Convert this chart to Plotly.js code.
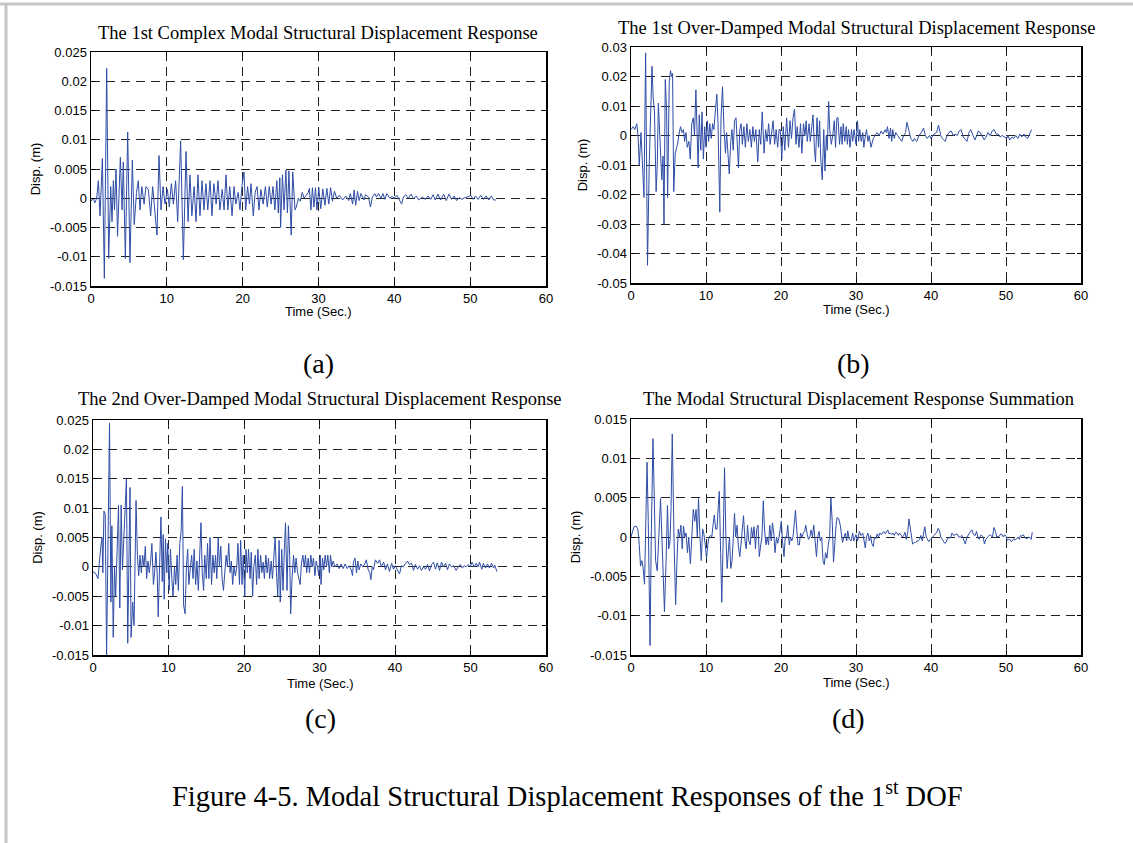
<!DOCTYPE html>
<html>
<head>
<meta charset="utf-8">
<script src="https://cdn.plot.ly/plotly-3.0.1.min.js"></script>
<style>
  html, body { margin: 0; padding: 0; background: #ffffff; }
  #chart { width: 1133px; height: 843px; }
</style>
</head>
<body>
<div id="chart"></div>
<script>
// ---------------- data ----------------
const xTickVals = [0, 10, 20, 30, 40, 50, 60];
const xTickText = ["0", "10", "20", "30", "40", "50", "60"];

const yTickValsA = [0.025, 0.02, 0.015, 0.01, 0.005, 0, -0.005, -0.01, -0.015];
const yTickTextA = ["0.025", "0.02", "0.015", "0.01", "0.005", "0", "-0.005", "-0.01", "-0.015"];
const yTickValsB = [0.03, 0.02, 0.01, 0, -0.01, -0.02, -0.03, -0.04, -0.05];
const yTickTextB = ["0.03", "0.02", "0.01", "0", "-0.01", "-0.02", "-0.03", "-0.04", "-0.05"];
const yTickValsD = [0.015, 0.01, 0.005, 0, -0.005, -0.01, -0.015];
const yTickTextD = ["0.015", "0.01", "0.005", "0", "-0.005", "-0.01", "-0.015"];

const panelTitles = [
  "The 1st Complex Modal Structural Displacement Response",
  "The 1st Over-Damped Modal Structural Displacement Response",
  "The 2nd Over-Damped Modal Structural Displacement Response",
  "The Modal Structural Displacement Response Summation"
];
const panelLetters = ["(a)", "(b)", "(c)", "(d)"];
const xTitle = "Time (Sec.)";
const yTitle = "Disp. (m)";
const caption = "Figure 4-5. Modal Structural Displacement Responses of the 1<sup>st</sup> DOF";

// (a) 1st complex modal response
const tA = [
  0, 0.3, 0.5, 0.75, 0.97, 1.19, 1.5, 1.76, 2.07, 2.33,
  2.6, 2.77, 2.95, 3.1, 3.3, 3.5, 3.87, 4.1, 4.26, 4.53,
  4.84, 5.14, 5.45, 5.7, 6.0, 6.24, 6.46, 6.7, 7.0, 7.25,
  7.56, 7.87, 8.13, 8.44, 8.7, 8.97, 9.23, 9.5, 9.76, 10.07,
  10.33, 10.6, 10.86, 11.16, 11.43, 11.82, 12.18, 12.53, 12.8, 13.05,
  13.3, 13.6, 13.85, 14.1, 14.37, 14.64, 14.9, 15.16, 15.4, 15.7,
  15.95, 16.2, 16.5, 16.75, 17.0, 17.3, 17.55, 17.8, 18.05, 18.3,
  18.6, 18.86, 19.1, 19.4, 19.65, 19.9, 20.17, 20.4, 20.65, 20.9,
  21.1, 21.4, 21.65, 21.9, 22.15, 22.4, 22.7, 23.0, 23.25, 23.5,
  23.75, 24.0, 24.25, 24.5, 24.7, 24.9, 25.0, 25.25, 25.45, 25.7,
  25.9, 26.1, 26.4, 26.6, 26.9, 27.07, 27.35, 27.6, 27.86, 28.1,
  28.4, 28.65, 28.8, 29.0, 29.2, 29.4, 29.6, 29.8, 30.04, 30.3,
  30.57, 30.85, 31.1, 31.35, 31.6, 31.85, 32.1, 32.4, 32.75, 33.2,
  33.6, 34.0, 34.2, 34.5, 34.7, 34.9, 35.15, 35.35, 35.6, 36.0,
  36.2, 36.6, 36.85, 37.1, 37.4, 37.65, 37.9, 38.25, 38.5, 38.75,
  39.0, 39.4, 39.7, 40.0, 40.35, 40.7, 40.96, 41.2, 41.5, 41.85,
  42.2, 42.55, 42.9, 43.2, 43.7, 44.1, 44.45, 44.8, 45.1, 45.4,
  45.75, 46.1, 46.5, 46.85, 47.2, 47.55, 47.9, 48.2, 48.6, 48.9,
  49.3, 49.8, 50.1, 50.4, 50.7, 51.05, 51.4, 51.75, 52.1, 52.45,
  52.8, 53.1, 53.4
];
const dA = [
  -0.0005, 0, -0.0008, 0, 0.003, -0.003, 0.0068, -0.0137, 0.0222, -0.0103,
  0.002, -0.004, 0.003, -0.002, 0.005, -0.0065, 0.007, -0.002, 0.0062, -0.0103,
  0.0113, -0.011, 0.0065, -0.0045, 0.001, 0.003, -0.002, 0.002, -0.001, 0.002,
  0.0015, -0.003, 0.002, -0.003, -0.0063, 0.0073, -0.002, 0.002, -0.001, 0.0015,
  -0.0015, 0.0025, -0.001, 0.003, -0.004, 0.0098, -0.0105, 0.008, -0.004, 0.004,
  -0.003, 0.002, -0.004, 0.004, -0.003, 0.003, -0.002, 0.0025, -0.002, 0.003,
  -0.003, 0.0025, -0.001, 0.003, -0.002, 0.0015, -0.002, 0.004, -0.002, 0.002,
  -0.003, 0.002, -0.001, 0.001, -0.002, 0.002, 0.0045, -0.002, 0.002, -0.001,
  0.0025, -0.003, 0.001, 0.002, -0.002, 0.0015, -0.001, 0.002, -0.0015, 0.002,
  -0.001, 0.002, -0.002, 0.003, -0.0025, 0.0035, -0.005, 0.004, -0.002, 0.0048,
  -0.0025, 0.0047, -0.0063, 0.0045, -0.002, -0.0015, 0, -0.0005, 0.001, 0,
  0.0005, 0.001, 0.0017, -0.002, 0.0018, -0.0015, 0.0018, -0.002, 0.0018, -0.0018,
  0.0016, -0.0012, 0.0017, -0.001, 0.0018, -0.0005, 0.0012, 0, 0.0005, -0.0003,
  0.0004, -0.0004, 0.0008, -0.001, 0.0014, -0.0012, 0.0012, -0.0004, 0.0008, -0.0003,
  0.0006, 0.0002, -0.0015, 0.0002, 0.0008, 0.0002, 0.0008, 0, 0.0008, -0.0002,
  0.0008, 0, 0.0003, 0, 0.0005, -0.0003, -0.001, 0.0002, 0.0006, 0,
  0.0007, -0.0001, 0.0004, -0.0003, 0.0002, -0.0002, 0.0004, -0.0002, 0.0006, -0.0003,
  0.0007, -0.0003, 0.0007, -0.0004, 0.0007, -0.0002, 0.0004, -0.0004, 0.0001, -0.0002,
  0.0001, 0.0003, 0.0005, -0.0002, 0.0004, -0.0002, 0.0005, -0.0002, 0.0004, -0.0003,
  0.0004, -0.0003, -0.0003
];

// (b) 1st over-damped modal response
const tB = [
  0, 0.3, 0.5, 0.77, 0.94, 1.1, 1.33, 1.55, 1.73, 1.95,
  2.2, 2.43, 2.6, 2.8, 2.95, 3.13, 3.35, 3.5, 3.65, 3.87,
  4.1, 4.27, 4.4, 4.57, 4.75, 4.88, 5.1, 5.27, 5.4, 5.54,
  5.7, 5.9, 6.0, 6.2, 6.37, 6.6, 6.8, 7.0, 7.15, 7.33,
  7.5, 7.72, 7.9, 8.1, 8.3, 8.47, 8.65, 8.8, 8.95, 9.1,
  9.3, 9.47, 9.65, 9.83, 10.0, 10.17, 10.35, 10.5, 10.7, 10.88,
  11.05, 11.27, 11.45, 11.6, 11.84, 12.0, 12.2, 12.4, 12.6, 12.75,
  12.93, 13.1, 13.3, 13.46, 13.63, 13.8, 14.0, 14.2, 14.33, 14.5,
  14.68, 14.85, 15.05, 15.25, 15.45, 15.65, 15.85, 16.05, 16.25, 16.45,
  16.65, 16.9, 17.1, 17.3, 17.5, 17.75, 17.95, 18.15, 18.35, 18.55,
  18.75, 18.95, 19.15, 19.35, 19.55, 19.75, 19.9, 20.1, 20.3, 20.5,
  20.75, 21.0, 21.2, 21.4, 21.6, 21.8, 22.0, 22.16, 22.4, 22.6,
  22.78, 23.0, 23.2, 23.35, 23.5, 23.75, 23.9, 24.1, 24.27, 24.45,
  24.6, 24.8, 25.0, 25.15, 25.3, 25.5, 25.7, 25.86, 26.04, 26.17,
  26.35, 26.5, 26.7, 26.9, 27.1, 27.27, 27.45, 27.6, 27.8, 28.0,
  28.15, 28.3, 28.5, 28.7, 28.85, 29.0, 29.2, 29.4, 29.56, 29.74,
  30.0, 30.2, 30.35, 30.5, 30.7, 30.9, 31.05, 31.2, 31.4, 31.6,
  31.76, 32.0, 32.3, 32.55, 32.8, 33.1, 33.35, 33.6, 33.9, 34.05,
  34.2, 34.4, 34.6, 34.76, 34.9, 35.1, 35.3, 35.55, 35.8, 36.1,
  36.35, 36.6, 36.8, 37.05, 37.3, 37.6, 37.8, 38.1, 38.4, 38.7,
  39.0, 39.25, 39.5, 39.8, 40.0, 40.4, 40.75, 41.0, 41.3, 41.5,
  41.9, 42.15, 42.4, 42.7, 42.95, 43.2, 43.5, 43.75, 44.0, 44.3,
  44.5, 44.8, 45.07, 45.3, 45.6, 45.86, 46.1, 46.3, 46.56, 46.8,
  47.1, 47.35, 47.6, 47.9, 48.15, 48.4, 48.7, 48.95, 49.2, 49.5,
  49.8, 50.1, 50.26, 50.5, 50.8, 51.05, 51.3, 51.6, 51.85, 52.1,
  52.4, 52.6, 52.9, 53.2, 53.4
];
const dB = [
  0.002, 0.003, 0.002, 0.004, 0, -0.01, 0.001, -0.012, -0.021, 0.028,
  -0.044, -0.01, 0.01, 0.0235, 0.013, 0.008, -0.019, -0.01, 0.011, -0.005,
  -0.015, -0.007, -0.03, 0.019, 0.008, -0.021, 0.018, 0.022, 0.02, 0.021,
  -0.019, -0.006, -0.005, -0.003, 0, 0.003, 0.001, 0.002, -0.002, 0.001,
  -0.004, -0.002, -0.008, 0.004, 0.006, 0, 0.0155, 0.002, -0.011, 0.007,
  -0.005, 0.008, -0.008, 0.003, -0.004, 0.005, -0.002, 0.004, -0.001, 0.004,
  0.002, 0.009, 0.014, 0.004, -0.026, 0.006, 0.0165, 0.002, -0.006, 0.001,
  -0.005, -0.013, -0.002, 0.002, -0.005, 0.005, 0.006, -0.003, -0.011, 0.002,
  0.004, -0.003, 0.003, -0.004, 0.004, -0.002, 0.002, -0.004, 0.003, -0.002,
  0.002, -0.009, 0.002, -0.003, 0.008, -0.006, 0.002, -0.002, 0.004, -0.003,
  0.002, 0.005, -0.003, 0.002, -0.004, 0.002, 0.002, -0.008, 0.003, -0.005,
  0.006, -0.004, 0.005, -0.001, 0.006, 0.009, -0.003, 0.003, -0.004, 0.004,
  -0.006, 0.004, 0, 0.005, -0.002, 0.004, -0.002, 0.004, 0.007, -0.004,
  -0.009, 0.006, -0.004, 0.005, -0.008, -0.015, 0.002, -0.012, 0, -0.005,
  0.0115, 0.002, -0.003, 0, 0.005, -0.004, 0.006, 0.006, -0.003, 0.003,
  -0.003, 0.004, -0.002, 0.003, -0.003, 0.002, -0.004, 0.002, -0.002, 0.002,
  -0.003, 0.005, -0.002, 0.002, -0.002, 0.001, -0.004, -0.001, 0.002, -0.002,
  0, -0.004, -0.001, 0, 0.001, 0, 0.0015, 0.0005, 0.002, 0.001,
  0.003, -0.001, 0.0025, -0.002, 0.002, -0.001, 0.001, 0, -0.001, -0.002,
  0, 0.001, 0.0045, 0.002, -0.001, -0.002, -0.001, -0.002, 0, 0.001,
  0.0025, 0, -0.001, 0, -0.001, 0.0005, 0.001, 0.0035, 0, -0.001,
  -0.002, 0, 0.001, 0.0015, 0, 0.0005, 0, 0.0015, 0.002, -0.0005,
  -0.001, -0.002, 0.001, 0.002, 0, -0.0015, 0, 0.0015, 0.001, 0,
  -0.0015, -0.0005, 0.001, 0, 0.0015, 0.002, 0.0005, 0.0005, -0.0005, 0,
  -0.0005, -0.001, 0, -0.0015, -0.0005, -0.001, 0, -0.001, 0.0005, -0.0005,
  0.0005, -0.0005, -0.001, 0.0005, 0.002
];

// (c) 2nd over-damped modal response
const tC = [
  0, 0.4, 0.66, 0.83, 1.0, 1.2, 1.3, 1.45, 1.62, 1.8,
  2.0, 2.19, 2.37, 2.5, 2.68, 2.85, 3.0, 3.2, 3.38, 3.55,
  3.73, 3.9, 4.08, 4.25, 4.43, 4.6, 4.78, 4.9, 5.04, 5.26,
  5.44, 5.57, 5.7, 5.88, 6.05, 6.23, 6.4, 6.58, 6.75, 6.93,
  7.1, 7.28, 7.45, 7.63, 7.8, 8.0, 8.16, 8.33, 8.5, 8.64,
  8.8, 9.0, 9.17, 9.3, 9.43, 9.6, 9.78, 9.9, 10.09, 10.26,
  10.44, 10.6, 10.8, 10.96, 11.14, 11.3, 11.5, 11.67, 11.84, 12.0,
  12.2, 12.37, 12.54, 12.7, 12.9, 13.07, 13.25, 13.4, 13.6, 13.77,
  13.95, 14.1, 14.3, 14.47, 14.65, 14.8, 15.0, 15.17, 15.35, 15.5,
  15.7, 15.88, 16.05, 16.23, 16.4, 16.58, 16.75, 16.93, 17.1, 17.28,
  17.46, 17.63, 17.8, 17.98, 18.16, 18.33, 18.5, 18.68, 18.86, 19.04,
  19.2, 19.4, 19.56, 19.74, 19.9, 20.1, 20.26, 20.44, 20.6, 20.8,
  20.96, 21.14, 21.3, 21.5, 21.67, 21.84, 22.0, 22.2, 22.37, 22.54,
  22.7, 22.9, 23.07, 23.25, 23.4, 23.6, 23.77, 23.95, 24.12, 24.3,
  24.47, 24.65, 24.8, 25.0, 25.17, 25.35, 25.5, 25.7, 25.88, 26.05,
  26.18, 26.36, 26.56, 26.73, 26.9, 27.1, 27.3, 27.44, 27.6, 27.8,
  27.97, 28.15, 28.3, 28.5, 28.68, 28.85, 29.03, 29.2, 29.4, 29.56,
  29.74, 29.9, 30.1, 30.2, 30.4, 30.57, 30.75, 30.93, 31.1, 31.3,
  31.46, 31.63, 31.8, 32.07, 32.34, 32.6, 32.87, 33.13, 33.4, 33.66,
  33.93, 34.2, 34.37, 34.5, 34.7, 34.9, 35.08, 35.25, 35.47, 35.74,
  36.0, 36.2, 36.45, 36.67, 36.8, 36.98, 37.15, 37.4, 37.7, 37.95,
  38.2, 38.5, 38.74, 39.0, 39.27, 39.55, 39.8, 40.07, 40.3, 40.6,
  40.86, 41.1, 41.4, 41.66, 41.9, 42.2, 42.45, 42.7, 43.0, 43.25,
  43.5, 43.77, 44.04, 44.3, 44.57, 44.83, 45.1, 45.36, 45.6, 45.9,
  46.16, 46.4, 46.7, 46.95, 47.2, 47.5, 47.75, 48.1, 48.37, 48.63,
  48.9, 49.16, 49.4, 49.7, 49.96, 50.2, 50.5, 50.76, 51.0, 51.2,
  51.5, 51.7, 52.0, 52.25, 52.5, 52.8, 53.06, 53.2, 53.5
];
const dC = [
  -0.0008, -0.0012, -0.002, 0.001, 0.003, 0.005, -0.001, 0.0095, 0.009, -0.015,
  0.006, 0.0245, -0.006, 0.007, -0.012, 0, -0.005, 0.006, 0.0105, -0.007,
  0.0105, -0.0005, 0.005, 0.0095, 0.015, -0.013, 0.003, 0.0135, -0.012, -0.006,
  -0.01, 0.005, 0.0113, 0.002, -0.0015, 0.002, -0.001, 0.002, 0, 0.0035,
  -0.002, 0.001, -0.001, 0.001, 0.004, -0.003, -0.001, 0.0025, -0.001, -0.0085,
  0.001, 0.0085, -0.0025, 0.0055, -0.0055, 0.0048, -0.001, 0.004, -0.004, 0.003,
  -0.002, -0.005, 0, -0.003, 0.002, -0.004, 0.004, 0.006, 0.0137, -0.0065,
  -0.008, 0, 0.003, -0.003, 0, 0.002, -0.002, 0.003, -0.003, 0.001,
  -0.004, 0, 0.0075, -0.001, -0.004, 0.002, -0.002, 0.004, -0.002, 0.005,
  -0.003, 0.002, -0.001, 0.002, -0.002, 0.005, 0, 0.0035, -0.002, -0.004,
  0, 0.002, 0, 0.004, -0.001, 0.001, -0.003, 0, -0.0015, 0,
  0.004, -0.003, 0.0045, -0.003, 0.002, -0.005, 0.003, -0.001, 0.003, -0.002,
  0.0025, -0.005, 0, 0.002, -0.003, 0.003, -0.002, 0.002, -0.001, 0.0008,
  -0.002, 0.002, -0.001, 0.0015, -0.002, 0.001, -0.002, 0.002, 0.005, -0.001,
  -0.005, 0.0045, -0.006, 0.003, -0.004, 0.003, 0.0075, -0.004, 0.007, 0.002,
  -0.008, -0.002, 0.002, -0.001, 0.0015, -0.001, -0.002, -0.003, 0.0005, 0.002,
  0, 0.002, -0.001, 0.0015, -0.001, 0.002, 0, 0.0015, -0.0015, 0.001,
  0, -0.0015, 0.002, -0.003, 0.0015, -0.0005, 0.002, 0, 0.002, -0.001,
  0.002, 0, 0.001, 0, 0.0005, -0.0003, 0.0005, -0.0003, 0.0005, -0.0003,
  0.0002, -0.0005, -0.0015, 0.0008, 0.0015, -0.001, 0.001, -0.0005, 0.0005, 0,
  0.0005, 0.0012, -0.0005, -0.001, -0.0022, 0, -0.0005, 0.0012, 0.0006, 0.0012,
  0, 0.0008, -0.0005, 0.0005, -0.0008, 0.0006, -0.0004, 0.0002, -0.0005, -0.0012,
  0.0002, 0, 0.0006, 0.001, 0.0004, 0.0006, -0.0006, 0.0004, -0.0004, 0.0002,
  -0.0006, 0, -0.0004, 0.0004, -0.0007, 0.0004, 0.0008, -0.0004, 0.0007, -0.0006,
  0.0008, 0, 0.0006, -0.0005, 0.0005, 0, 0.0002, -0.0006, 0, 0.0004,
  -0.0002, 0.0002, 0, 0.0004, 0, 0.0008, 0, 0.0006, 0, 0.0008,
  -0.0004, 0.0006, -0.0002, 0.0005, -0.0002, 0.0006, -0.0002, 0.0003, -0.0008
];

// (d) summation
const tD = [
  0, 0.13, 0.4, 0.66, 0.92, 1.1, 1.27, 1.44, 1.6, 1.8,
  1.97, 2.14, 2.3, 2.54, 2.7, 2.93, 3.1, 3.28, 3.5, 3.68,
  3.94, 4.16, 4.3, 4.46, 4.68, 4.86, 5.03, 5.2, 5.34, 5.5,
  5.73, 5.95, 6.13, 6.3, 6.48, 6.65, 6.83, 7.0, 7.18, 7.35,
  7.53, 7.7, 7.92, 8.14, 8.3, 8.5, 8.67, 8.84, 9.0, 9.2,
  9.37, 9.55, 9.7, 9.9, 10.07, 10.24, 10.4, 10.6, 10.77, 10.94,
  11.1, 11.3, 11.47, 11.64, 11.77, 11.95, 12.1, 12.3, 12.47, 12.65,
  12.82, 13.0, 13.13, 13.3, 13.48, 13.65, 13.8, 13.96, 14.14, 14.3,
  14.5, 14.66, 14.84, 15.0, 15.2, 15.36, 15.54, 15.7, 15.9, 16.06,
  16.24, 16.4, 16.6, 16.76, 16.94, 17.1, 17.3, 17.46, 17.64, 17.8,
  18.0, 18.16, 18.34, 18.5, 18.7, 18.86, 19.04, 19.2, 19.4, 19.56,
  19.74, 19.9, 20.04, 20.2, 20.4, 20.57, 20.74, 20.9, 21.1, 21.27,
  21.44, 21.6, 21.8, 21.93, 22.1, 22.27, 22.45, 22.6, 22.8, 22.97,
  23.15, 23.3, 23.5, 23.67, 23.85, 24.0, 24.2, 24.37, 24.55, 24.73,
  24.9, 25.07, 25.25, 25.43, 25.6, 25.77, 25.95, 26.13, 26.3, 26.48,
  26.65, 26.83, 27.0, 27.18, 27.35, 27.5, 27.7, 27.9, 28.05, 28.2,
  28.4, 28.58, 28.76, 28.9, 29.1, 29.34, 29.56, 29.7, 30.0, 30.2,
  30.44, 30.66, 30.9, 31.06, 31.24, 31.4, 31.6, 31.77, 31.94, 32.1,
  32.3, 32.47, 32.65, 32.83, 33.0, 33.18, 33.36, 33.5, 33.7, 33.9,
  34.06, 34.24, 34.4, 34.6, 34.77, 34.94, 35.1, 35.3, 35.47, 35.65,
  35.8, 36.0, 36.2, 36.36, 36.53, 36.7, 36.9, 37.06, 37.2, 37.37,
  37.55, 37.77, 37.95, 38.12, 38.3, 38.48, 38.65, 38.83, 39.0, 39.18,
  39.36, 39.53, 39.7, 39.9, 40.07, 40.25, 40.4, 40.6, 40.77, 40.95,
  41.13, 41.3, 41.5, 41.66, 41.83, 42.0, 42.2, 42.37, 42.6, 42.8,
  43.0, 43.26, 43.47, 43.7, 43.9, 44.13, 44.35, 44.57, 44.8, 45.0,
  45.2, 45.45, 45.67, 45.9, 46.07, 46.25, 46.42, 46.6, 46.77, 46.95,
  47.13, 47.3, 47.5, 47.66, 47.84, 48.0, 48.2, 48.4, 48.6, 48.77,
  48.94, 49.1, 49.3, 49.47, 49.65, 49.8, 50.0, 50.17, 50.35, 50.53,
  50.7, 50.9, 51.06, 51.23, 51.4, 51.6, 51.77, 51.94, 52.1, 52.3,
  52.48, 52.65, 52.83, 53.0, 53.2, 53.36, 53.5
];
const dD = [
  0, 0.0005, 0.0013, 0.0014, 0.001, -0.001, -0.0037, -0.003, -0.0038, -0.006,
  0, 0.0095, 0.002, -0.0138, 0, 0.0125, 0.005, -0.003, -0.0043, 0,
  0.0049, -0.001, -0.005, -0.0095, -0.003, 0.004, -0.0015, -0.0005, 0.0038, 0.0131,
  0, -0.0086, -0.003, 0.001, 0, 0.0015, -0.0015, 0.0014, 0, 0.0005,
  -0.002, 0, -0.0034, 0, 0.0035, 0.002, 0.0035, 0, 0.0049, 0,
  -0.003, 0.001, 0.0005, -0.001, -0.0027, -0.001, 0, 0.0002, 0, 0.0015,
  0.0028, 0.001, 0.001, 0.004, 0.0058, -0.002, -0.0083, 0, 0.0088, 0,
  -0.004, -0.0015, 0, -0.004, -0.003, 0, 0.003, 0, 0.0015, -0.001,
  -0.0025, -0.001, 0.0015, 0.0027, -0.0005, -0.0015, 0.0015, -0.0005, -0.001, 0.0012,
  0, 0.0013, -0.0015, 0.001, 0.0015, -0.0025, -0.001, 0, 0.0046, 0.001,
  -0.001, 0, -0.001, 0.0015, -0.0005, 0.0018, 0.0005, -0.002, 0, -0.0008,
  0, 0.0015, 0.002, -0.0005, -0.0025, 0, 0, 0.0015, -0.001, 0,
  -0.0005, 0, 0.0025, 0.0034, 0.001, -0.001, -0.001, 0.0005, 0, 0.0005,
  0.0007, 0.0015, 0.0003, -0.0003, 0, 0.0009, 0, 0.0015, -0.0005, -0.0025,
  0, 0.0007, -0.0005, 0, -0.003, -0.0035, -0.002, -0.0027, -0.001, 0,
  0.005, 0.002, -0.0032, -0.0005, 0.0016, 0.0025, 0.0023, 0.0015, 0, -0.0007,
  0, 0.0005, -0.0005, 0.0008, -0.0003, -0.0005, 0.0005, -0.0005, 0.0003, -0.0005,
  0.0007, 0.0002, 0.0005, -0.0005, -0.0014, 0, 0.0005, -0.0005, 0.0002, -0.0008,
  -0.0012, 0, -0.0002, 0.0004, 0, 0.0005, 0.0003, 0.0005, 0.0007, 0.0004,
  0.0007, 0.0009, 0.0004, 0.0005, 0.0003, 0.0005, 0.0002, 0.0006, 0.0005, 0.0002,
  0.0005, 0.0003, 0, 0.0002, 0.0006, -0.0003, 0.0006, 0.0023, 0.0015, 0,
  -0.0009, -0.0007, -0.0007, -0.0005, -0.0005, -0.0003, 0.0002, -0.0005, 0.0005, 0.0013,
  0, -0.0004, -0.0006, -0.0003, -0.0002, 0, 0.0002, 0.0005, 0.0006, 0.0011,
  0.0008, 0, -0.0003, -0.0004, -0.0008, -0.0007, -0.0002, -0.0001, -0.0001, 0.0005,
  0.0002, 0.0003, 0.0004, 0, 0, 0.0002, -0.0005, -0.0009, 0, 0.0004,
  0.0006, 0.0009, 0.0003, 0.0002, 0.0007, 0, -0.0003, 0.0002, 0.0002, 0,
  -0.0009, -0.0003, 0, 0.0001, 0.0003, 0.0001, 0, 0.0012, 0.0007, 0,
  0.0001, 0.0001, 0.0004, 0.0003, 0, 0.0003, 0.0001, -0.0004, -0.0003, -0.0003,
  -0.0006, -0.0004, -0.0002, -0.0004, -0.0002, 0, -0.0003, 0.0002, 0.0001, 0.0003,
  0, -0.0002, -0.0002, 0, -0.0001, -0.0003, 0.0006
];

// ---------------- layout helpers ----------------
const W = 1133, H = 843;
const px = v => v / W;
const py = v => 1 - v / H;
const lineColor = '#2f4da6';
const sansFont = 'Liberation Sans, Arial, Helvetica, sans-serif';
const serifFont = 'Liberation Serif, Times New Roman, serif';

function xAxis(x0, x1, anchor) {
  return {
    domain: [px(x0), px(x1)], anchor: anchor, range: [0, 60],
    tickmode: 'array', tickvals: xTickVals, ticktext: xTickText,
    showgrid: true, gridcolor: '#222', gridwidth: 1, griddash: '9px,6px',
    zeroline: false, showline: true, mirror: 'ticks', linecolor: '#000', linewidth: 1.5,
    ticks: 'inside', ticklen: 4, tickcolor: '#000',
    tickfont: { family: sansFont, size: 13, color: '#000' }
  };
}
function yAxis(y0, y1, anchor, range, vals, text) {
  return {
    domain: [py(y1), py(y0)], anchor: anchor, range: range,
    tickmode: 'array', tickvals: vals, ticktext: text,
    showgrid: true, gridcolor: '#222', gridwidth: 1, griddash: '9px,6px',
    zeroline: false, showline: true, mirror: 'ticks', linecolor: '#000', linewidth: 1.5,
    ticks: 'inside', ticklen: 4, tickcolor: '#000',
    tickfont: { family: sansFont, size: 13, color: '#000' },
    title: { text: yTitle, font: { family: sansFont, size: 13, color: '#000' }, standoff: 6 }
  };
}

const traces = [
  { x: tA, y: dA, xaxis: 'x', yaxis: 'y' },
  { x: tB, y: dB, xaxis: 'x2', yaxis: 'y2' },
  { x: tC, y: dC, xaxis: 'x3', yaxis: 'y3' },
  { x: tD, y: dD, xaxis: 'x4', yaxis: 'y4' }
].map(t => Object.assign(t, { type: 'scatter', mode: 'lines', line: { color: lineColor, width: 1 }, hoverinfo: 'skip' }));

function ann(text, x, y, size, family) {
  return { text: text, xref: 'paper', yref: 'paper', x: px(x), y: py(y), xanchor: 'center', yanchor: 'middle',
           showarrow: false, font: { family: family, size: size, color: '#000' } };
}

const layout = {
  width: W, height: H, margin: { l: 0, r: 0, t: 0, b: 0 },
  paper_bgcolor: '#ffffff', plot_bgcolor: '#ffffff', showlegend: false,
  xaxis:  xAxis(91, 546, 'y'),
  yaxis:  yAxis(52, 286, 'x', [-0.015, 0.025], yTickValsA, yTickTextA),
  xaxis2: xAxis(631, 1081, 'y2'),
  yaxis2: yAxis(47, 283, 'x2', [-0.05, 0.03], yTickValsB, yTickTextB),
  xaxis3: xAxis(93, 546, 'y3'),
  yaxis3: yAxis(420, 655, 'x3', [-0.015, 0.025], yTickValsA, yTickTextA),
  xaxis4: xAxis(631, 1081, 'y4'),
  yaxis4: yAxis(419, 655, 'x4', [-0.015, 0.015], yTickValsD, yTickTextD),
  annotations: [
    ann(panelTitles[0], 318, 33, 18.5, serifFont),
    ann(panelTitles[1], 856, 28, 18.5, serifFont),
    ann(panelTitles[2], 320, 399, 18.5, serifFont),
    ann(panelTitles[3], 858, 399, 18.5, serifFont),
    ann(xTitle, 318, 312, 13, sansFont),
    ann(xTitle, 856, 309, 13, sansFont),
    ann(xTitle, 320, 683, 13, sansFont),
    ann(xTitle, 856, 682, 13, sansFont),
    ann(panelLetters[0], 318, 363, 28, serifFont),
    ann(panelLetters[1], 853, 363, 28, serifFont),
    ann(panelLetters[2], 320, 718, 28, serifFont),
    ann(panelLetters[3], 848, 718, 28, serifFont),
    ann(caption, 567, 794, 28.5, serifFont)
  ],
  shapes: [
    { type: 'line', xref: 'paper', yref: 'paper', x0: 0, x1: 1, y0: py(4), y1: py(4), line: { color: '#c6c6c6', width: 3 } },
    { type: 'line', xref: 'paper', yref: 'paper', x0: px(6), x1: px(6), y0: py(4), y1: 0, line: { color: '#c6c6c6', width: 3 } }
  ]
};

Plotly.newPlot('chart', traces, layout, { staticPlot: true, displayModeBar: false });
</script>
</body>
</html>
